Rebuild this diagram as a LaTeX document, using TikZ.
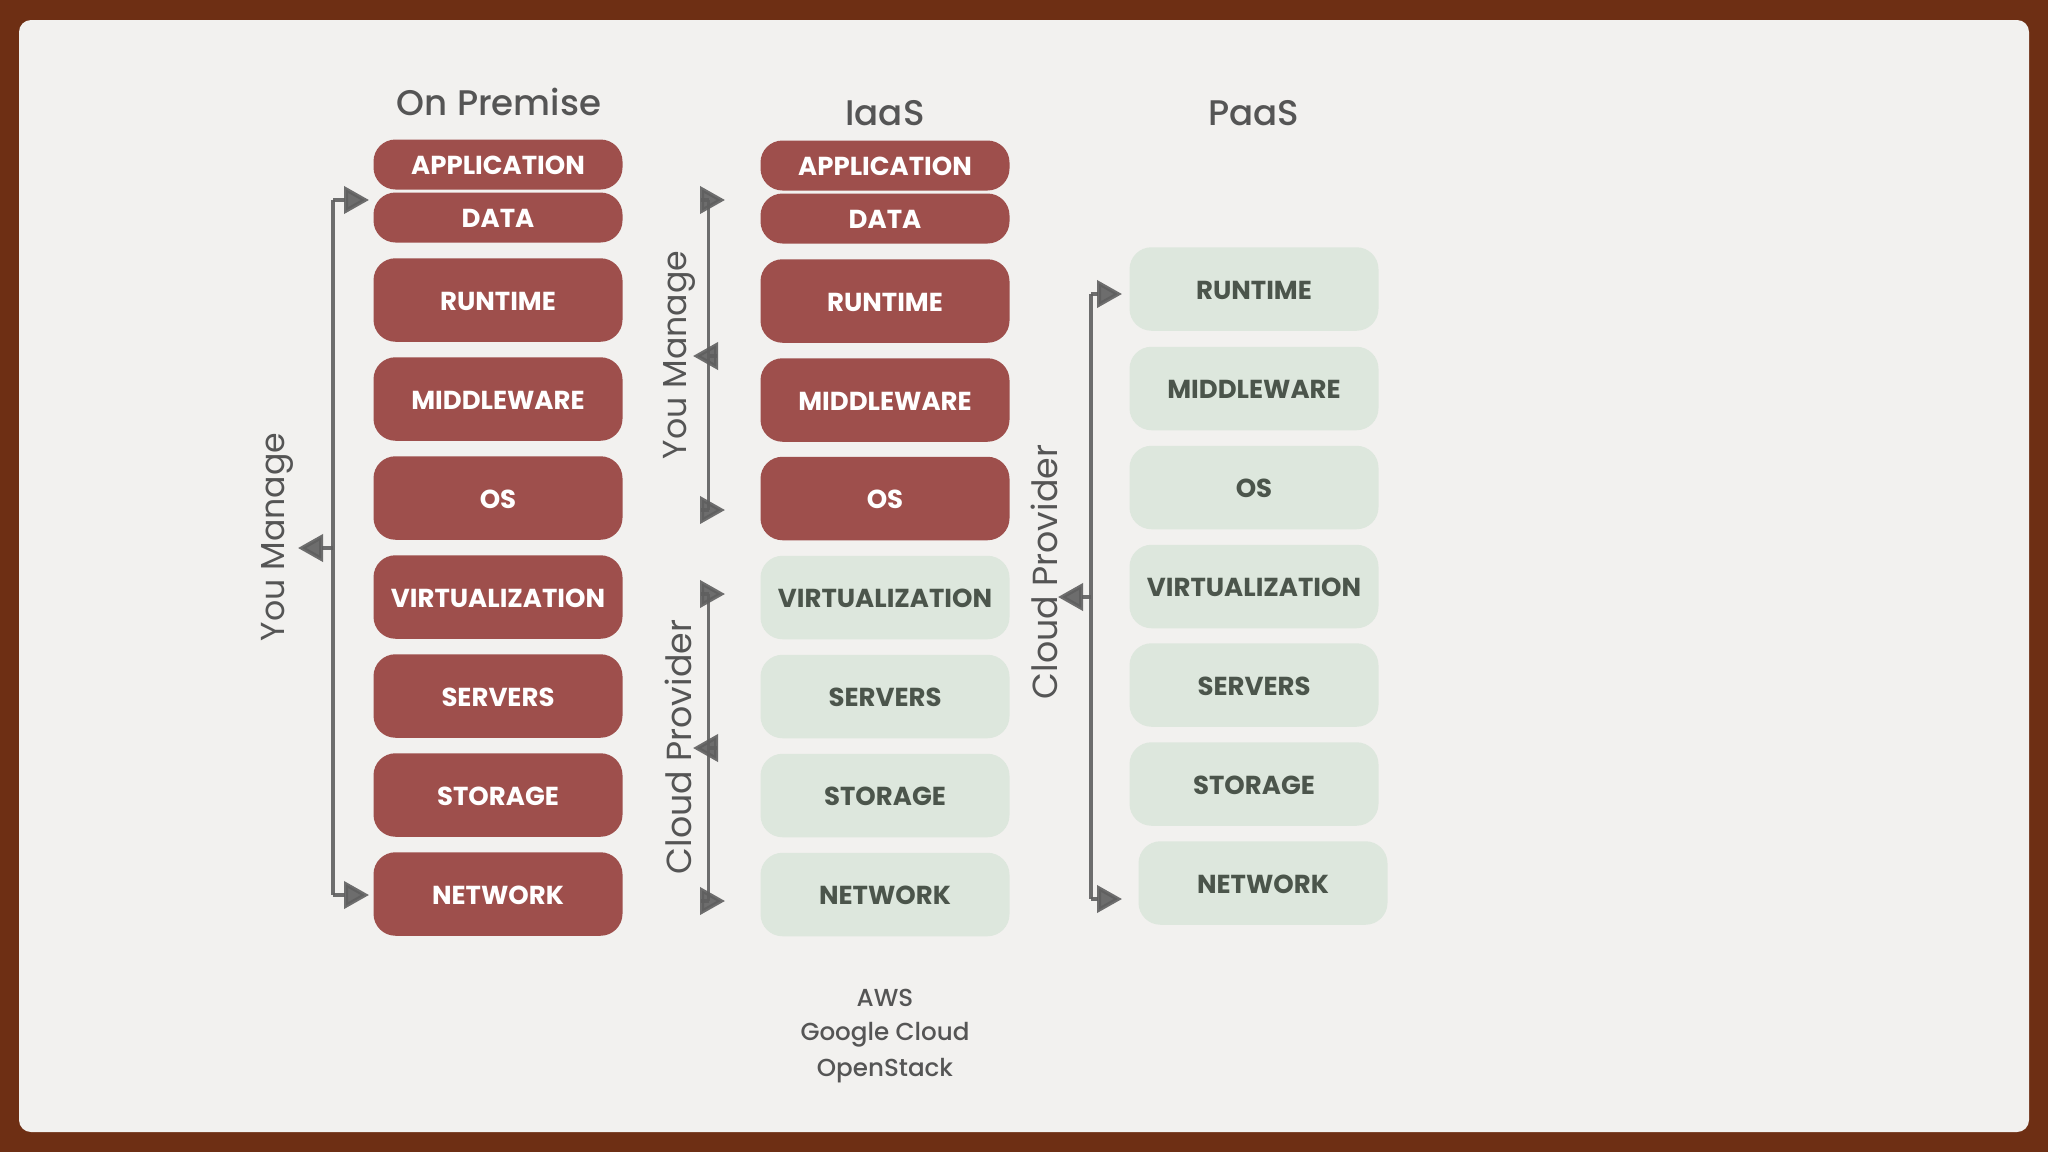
\documentclass[tikz,border=0pt]{standalone}
\usepackage{fontspec}
\setmainfont{Poppins}
\newfontfamily\medfont{Poppins Medium}
\usetikzlibrary{arrows.meta}
\definecolor{frameC}{HTML}{6E2F14}
\definecolor{paperC}{HTML}{F2F1EF}
\definecolor{redC}{HTML}{9E4F4C}
\definecolor{greenC}{HTML}{DDE7DD}
\definecolor{greenT}{HTML}{4B554B}
\definecolor{greyT}{HTML}{555555}
\definecolor{arrC}{HTML}{5F5F5F}
\tikzset{
  x=.5pt,y=-.5pt,
  box/.style={rounded corners=11pt,minimum width=124.5pt,inner sep=0pt,text height=10.4pt,text depth=0pt,font=\fontsize{13}{13}\selectfont\bfseries},
  tall/.style={box,minimum height=41.75pt},
  short/.style={box,minimum height=25pt},
  redbox/.style={fill=redC,text=white},
  greenbox/.style={fill=greenC,text=greenT},
  title/.style={text=greyT,inner sep=0pt,font=\fontsize{17.8}{17.8}\medfont},
  side/.style={text=greyT,inner sep=0pt,rotate=90,font=\fontsize{16.6}{16.6}\selectfont},
  sidelong/.style={side,font=\fontsize{17.4}{17.4}\selectfont},
  small/.style={text=greyT,inner sep=0pt,font=\fontsize{12.3}{12.3}\medfont},
  spine/.style={draw=arrC,line width=1.6pt,opacity=.9},
  headline/.style={draw=arrC,line width=2pt,opacity=.9,-{Triangle[length=12.5pt,width=13.5pt]}},
}
\begin{document}
\begin{tikzpicture}
\useasboundingbox (0,0) rectangle (2048,1152);
\fill[frameC] (0,0) rectangle (2048,1152);
\fill[paperC,rounded corners=6pt] (19,20) rectangle (2029,1132);
% On Premise
\node[title] (t1) at (499,102) {On Premise};
\node[short,redbox] (a1) at (498,164.5) {APPLICATION};
\node[short,redbox] (a2) at (498,217.5) {DATA};
\node[tall,redbox] (a3) at (498,300) {RUNTIME};
\node[tall,redbox] (a4) at (498,399) {MIDDLEWARE};
\node[tall,redbox] (a5) at (498,498) {OS};
\node[tall,redbox] (a6) at (498,597) {VIRTUALIZATION};
\node[tall,redbox] (a7) at (498,696) {SERVERS};
\node[tall,redbox] (a8) at (498,795) {STORAGE};
\node[tall,redbox] (a9) at (498,894) {NETWORK};
% IaaS
\node[title] (t2) at (885,113) {IaaS};
\node[short,redbox] (b1) at (885,165.5) {APPLICATION};
\node[short,redbox] (b2) at (885,218.5) {DATA};
\node[tall,redbox] (b3) at (885,301) {RUNTIME};
\node[tall,redbox] (b4) at (885,400) {MIDDLEWARE};
\node[tall,redbox] (b5) at (885,498.5) {OS};
\node[tall,greenbox] (b6) at (885,597.5) {VIRTUALIZATION};
\node[tall,greenbox] (b7) at (885,696.5) {SERVERS};
\node[tall,greenbox] (b8) at (885,795.5) {STORAGE};
\node[tall,greenbox] (b9) at (885,894.5) {NETWORK};
% PaaS
\node[title] (t3) at (1254,113) {PaaS};
\node[tall,greenbox] (c3) at (1254,289) {RUNTIME};
\node[tall,greenbox] (c4) at (1254,388.5) {MIDDLEWARE};
\node[tall,greenbox] (c5) at (1254,487.5) {OS};
\node[tall,greenbox] (c6) at (1254,586.5) {VIRTUALIZATION};
\node[tall,greenbox] (c7) at (1254,685) {SERVERS};
\node[tall,greenbox] (c8) at (1254,784) {STORAGE};
\node[tall,greenbox] (c9) at (1263,883) {NETWORK};
% side labels
\node[side] (s1) at (277,537) {You Manage};
\node[side] (s2) at (679,355) {You Manage};
\node[sidelong] (s3) at (678,747) {Cloud Provider};
\node[sidelong] (s4) at (1044,572) {Cloud Provider};
% footer
\node[small] (f1) at (885,998) {AWS};
\node[small] (f2) at (885,1035) {Google Cloud};
\node[small] (f3) at (885,1071) {OpenStack};
% connector points
\coordinate (p1t) at (333,200); \coordinate (p1b) at (333,895); \coordinate (p1m) at (333,548);
\coordinate (p1tt) at (369,200); \coordinate (p1bt) at (369,895); \coordinate (p1mt) at (298,548);
\coordinate (p2t) at (708.5,200); \coordinate (p2b) at (708.5,510); \coordinate (p2m) at (708.5,356);
\coordinate (p2tt) at (725,200); \coordinate (p2bt) at (725,510); \coordinate (p2mt) at (693,356);
\coordinate (p3t) at (708.5,594); \coordinate (p3b) at (708.5,901); \coordinate (p3m) at (708.5,748);
\coordinate (p3tt) at (725,594); \coordinate (p3bt) at (725,901); \coordinate (p3mt) at (693,748);
\coordinate (p4t) at (1091,294); \coordinate (p4b) at (1091,899); \coordinate (p4m) at (1091,597);
\coordinate (p4tt) at (1122,294); \coordinate (p4bt) at (1122,899); \coordinate (p4mt) at (1058,597);
\foreach \n in {1,2,3,4}{
  \draw[spine] (p\n t) -- (p\n b);
  \draw[headline] (p\n t) -- (p\n tt);
  \draw[headline] (p\n b) -- (p\n bt);
  \draw[headline] (p\n m) -- (p\n mt);
}
\end{tikzpicture}
\end{document}
